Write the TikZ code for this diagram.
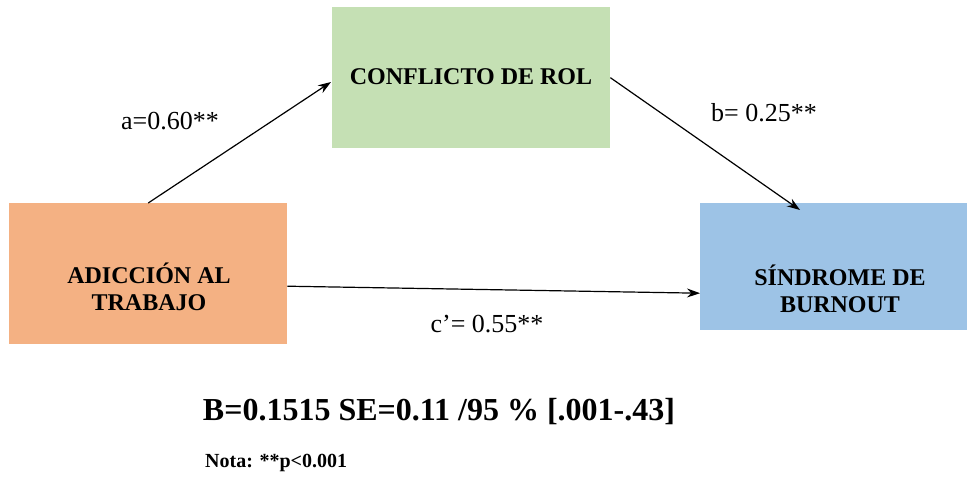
\documentclass[tikz,border=0pt]{standalone}
\usepackage{fontspec}
\setmainfont{Liberation Serif}[BoldFont={Liberation Serif Bold},ItalicFont={Liberation Serif Italic}]
\usetikzlibrary{arrows.meta,calc}
\definecolor{orangebox}{HTML}{F4B183}
\definecolor{greenbox}{HTML}{C5E0B4}
\definecolor{bluebox}{HTML}{9DC3E6}
\begin{document}
\begin{tikzpicture}[x=1pt,y=-1pt,
  box/.style={draw=none,inner sep=0pt,anchor=north west},
  boxtext/.style={align=center,font=\fontsize{24}{26.5}\selectfont\bfseries,inner sep=0pt},
  lbl/.style={font=\fontsize{26}{28}\selectfont,inner sep=0pt},
  conn/.style={line width=1.2pt,-{Stealth[length=13pt,width=9pt]}}]
\useasboundingbox[fill=white] (0,0) rectangle (967,477);
\node[box,fill=orangebox,minimum width=278pt,minimum height=141pt] (adic) at (9,203) {};
\node[box,fill=greenbox,minimum width=278pt,minimum height=141pt] (conf) at (332,7) {};
\node[box,fill=bluebox,minimum width=267pt,minimum height=127pt] (sind) at (700,203) {};
\node[boxtext] (adict) at (149,287) {ADICCIÓN AL\\TRABAJO};
\node[boxtext] (conft) at (471,77) {CONFLICTO DE ROL};
\node[boxtext] (sindt) at (840,289) {SÍNDROME DE\\BURNOUT};
\coordinate (aend) at (331,82);
\coordinate (bend) at (800,210);
\draw[conn] (adic.north) -- (aend);
\draw[conn] (conf.east) -- (bend);
\draw[conn] ([yshift=-12.5pt]adic.east) -- ([yshift=-26.5pt]sind.west);
\node[lbl] (la) at (170,121) {a=0.60**};
\node[lbl] (lb) at (764,113) {b= 0.25**};
\node[lbl] (lc) at (487,324) {c’= 0.55**};
\node[inner sep=0pt,font=\fontsize{32}{34}\selectfont\bfseries] (stat) at (439,412) {B=0.1515 SE=0.11 /95 \% [.001-.43]};
\node[inner sep=0pt,anchor=west,font=\fontsize{20}{22}\selectfont\bfseries] (nota) at (205,463) {Nota: **p<0.001};
\end{tikzpicture}
\end{document}
